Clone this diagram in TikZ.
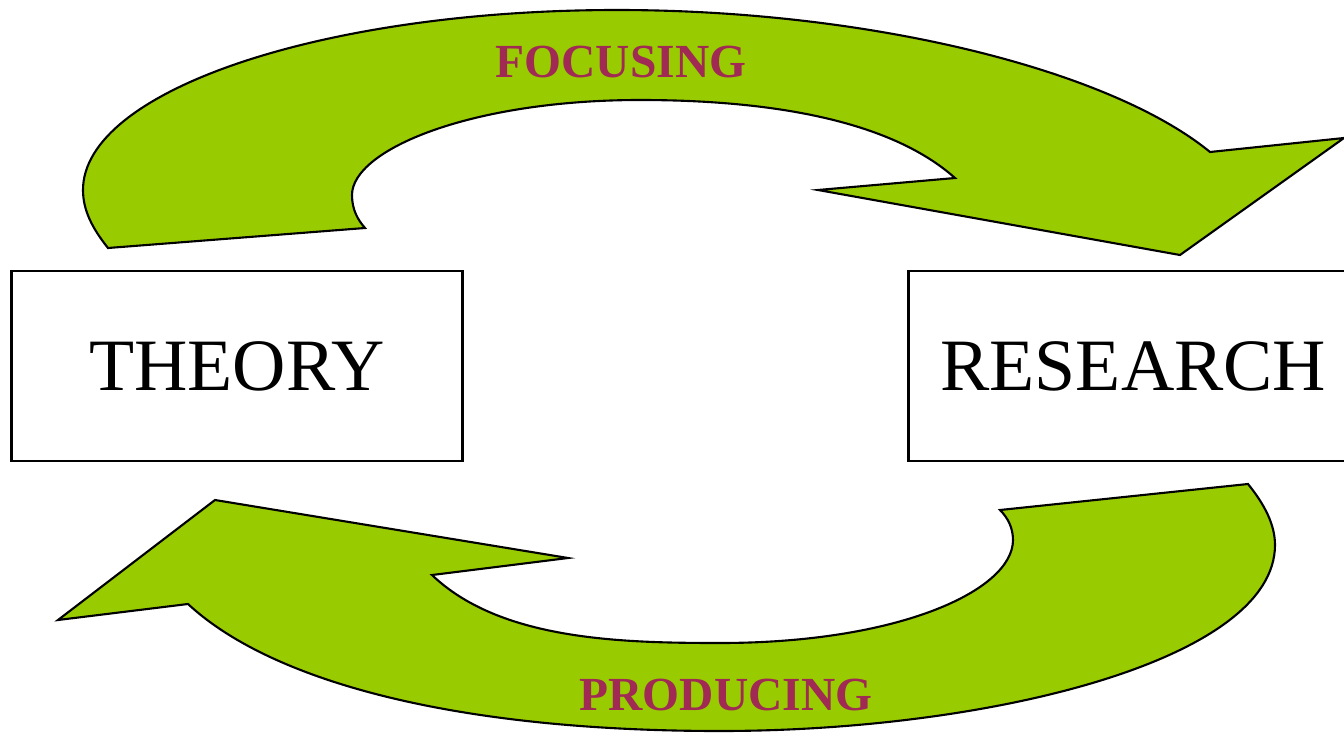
\documentclass[tikz,border=0pt]{standalone}
\usepackage{fontspec}
\setmainfont{Liberation Serif}
\usetikzlibrary{positioning}

\definecolor{arrowgreen}{RGB}{153,204,0}
\definecolor{labelred}{RGB}{160,42,84}

\begin{document}
\begin{tikzpicture}[
            x=0.01cm,
            y=-0.01cm,
            line join=miter
        ]
        \tikzstyle{box}=[draw=black, line width=0.8pt, minimum width=4.5cm, minimum height=1.9cm, inner sep=0pt, font=\fontsize{21}{24}\selectfont]
        \tikzstyle{bigarrow}=[fill=arrowgreen, draw=black, line width=0.6pt]
        \tikzstyle{flowlabel}=[anchor=base, inner sep=0pt, text=labelred, font=\fontsize{13.5}{16}\selectfont\bfseries]

        \useasboundingbox (0,0) rectangle (1344,733);

        % focusing arrow (top)
        \path[bigarrow] (108,248) .. controls (92,228) and (83,210) .. (83,190)
            .. controls (83,91) and (322,10) .. (617,10)
            .. controls (870,10) and (1110,70) .. (1210,152)
            -- (1344,138) -- (1180,255) -- (818,190) -- (955,178)
            .. controls (890,120) and (770,100) .. (640,100)
            .. controls (470,100) and (352,150) .. (352,195)
            .. controls (352,210) and (358,220) .. (365,228) -- cycle;

        % producing arrow (bottom)
        \path[bigarrow] (1248,484) .. controls (1265,505) and (1275,525) .. (1275,545)
            .. controls (1275,660) and (990,731) .. (720,731)
            .. controls (450,731) and (270,680) .. (188,604)
            -- (58,620) -- (215,500) -- (568,558) -- (432,575)
            .. controls (500,640) and (620,643) .. (720,643)
            .. controls (900,643) and (1013,590) .. (1013,540)
            .. controls (1013,528) and (1008,518) .. (1000,510) -- cycle;

        \node[box] (theory) at (237,366) {THEORY};
        \node[box] (research) [right=4.43cm of theory] {RESEARCH};

        \node[flowlabel] (focusing) at (621,77) {FOCUSING};
        \node[flowlabel] (producing) at (726,710) {PRODUCING};
    \end{tikzpicture}
\end{document}
